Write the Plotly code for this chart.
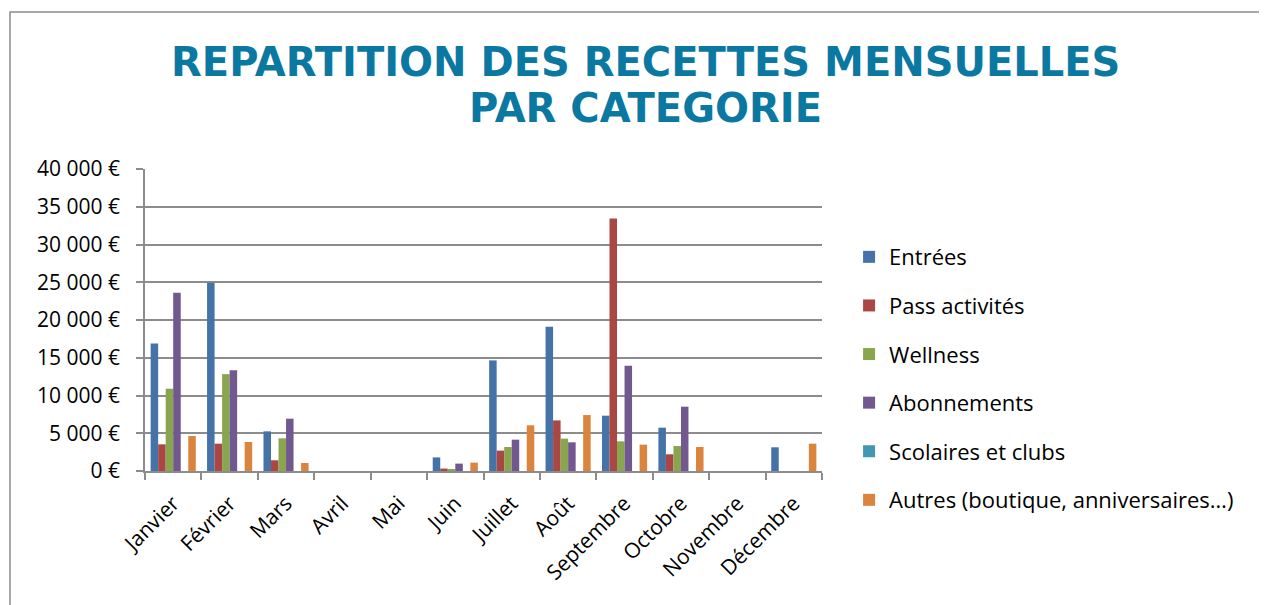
import plotly.graph_objects as go

# Months (x categories)
mois = ["Janvier", "Février", "Mars", "Avril", "Mai", "Juin", "Juillet",
        "Août", "Septembre", "Octobre", "Novembre", "Décembre"]

# Monthly receipts per category (in euros)
entrees = [16900, 24950, 5250, 0, 0, 1800, 14650, 19100, 7330, 5740, 0, 3140]
pass_activites = [3530, 3620, 1420, 0, 0, 320, 2700, 6700, 33440, 2210, 0, 0]
wellness = [10900, 12830, 4330, 0, 0, 200, 3180, 4290, 3930, 3310, 0, 0]
abonnements = [23600, 13360, 6930, 0, 0, 980, 4150, 3800, 13950, 8520, 0, 0]
scolaires = [0, 0, 0, 0, 0, 0, 0, 0, 0, 0, 0, 0]
autres = [4630, 3840, 1060, 0, 0, 1110, 6050, 7410, 3490, 3180, 0, 3620]

# Y axis ticks
y_ticks = [0, 5000, 10000, 15000, 20000, 25000, 30000, 35000, 40000]
y_tick_labels = ["0 €", "5 000 €", "10 000 €", "15 000 €", "20 000 €",
                 "25 000 €", "30 000 €", "35 000 €", "40 000 €"]

title_lines = ["REPARTITION DES RECETTES MENSUELLES", "PAR CATEGORIE"]

series = [
    ("Entrées", entrees, "#4572A7"),
    ("Pass activités", pass_activites, "#AA4643"),
    ("Wellness", wellness, "#89A54E"),
    ("Abonnements", abonnements, "#71588F"),
    ("Scolaires et clubs", scolaires, "#4198AF"),
    ("Autres (boutique, anniversaires…)", autres, "#DB843D"),
]

fig = go.Figure()
for i, (name, vals, col) in enumerate(series):
    fig.add_trace(go.Bar(
        x=mois, y=vals, name=name,
        marker_color=col, marker_line_width=0,
        legendgroup="g%d" % i,
    ))

grid_col = "#8c8c8c"

# page body has an 8px margin, so margins are shifted by 8px
fig.update_layout(
    width=1267, height=605,
    margin=dict(l=137, r=453, t=161, b=142),
    paper_bgcolor="white", plot_bgcolor="white",
    barmode="group", bargap=0.2, bargroupgap=0,
    font=dict(family="Open Sans", size=21, color="black"),
    legend=dict(
        x=1.04, y=0.778, xanchor="left", yanchor="top",
        font=dict(size=22), tracegroupgap=17,
        itemwidth=30,
    ),
    showlegend=True,
)

# Title as two annotations so each line sits where the original does
for txt, yy in zip(title_lines, [1.354, 1.202]):
    fig.add_annotation(
        text=txt, xref="paper", yref="paper", x=0.74, y=yy,
        xanchor="center", yanchor="middle", showarrow=False,
        font=dict(family="DejaVu Sans", size=40, color="#0B78A2", weight="bold"),
    )

fig.update_yaxes(
    range=[0, 40000], tickvals=y_ticks, ticktext=y_tick_labels,
    showgrid=True, gridcolor=grid_col, gridwidth=1.5,
    showline=True, linecolor=grid_col, linewidth=1.5,
    ticks="outside", ticklen=7, tickcolor=grid_col, tickwidth=1.5,
    zeroline=False, automargin=False, ticklabelstandoff=12,
)
fig.update_xaxes(
    showline=True, linecolor=grid_col, linewidth=1.5,
    ticks="outside", ticklen=7, tickcolor=grid_col, tickwidth=1.5,
    tickson="boundaries", tickangle=-45,
    showgrid=False, automargin=False, ticklabelstandoff=10,
)

# Outer chart border
fig.add_shape(type="rect", xref="paper", yref="paper",
              x0=-0.1994, x1=1.8, y0=-0.6, y1=1.52,
              line=dict(color="#8c8c8c", width=1.5), layer="below")

fig.write_html("out.html")
